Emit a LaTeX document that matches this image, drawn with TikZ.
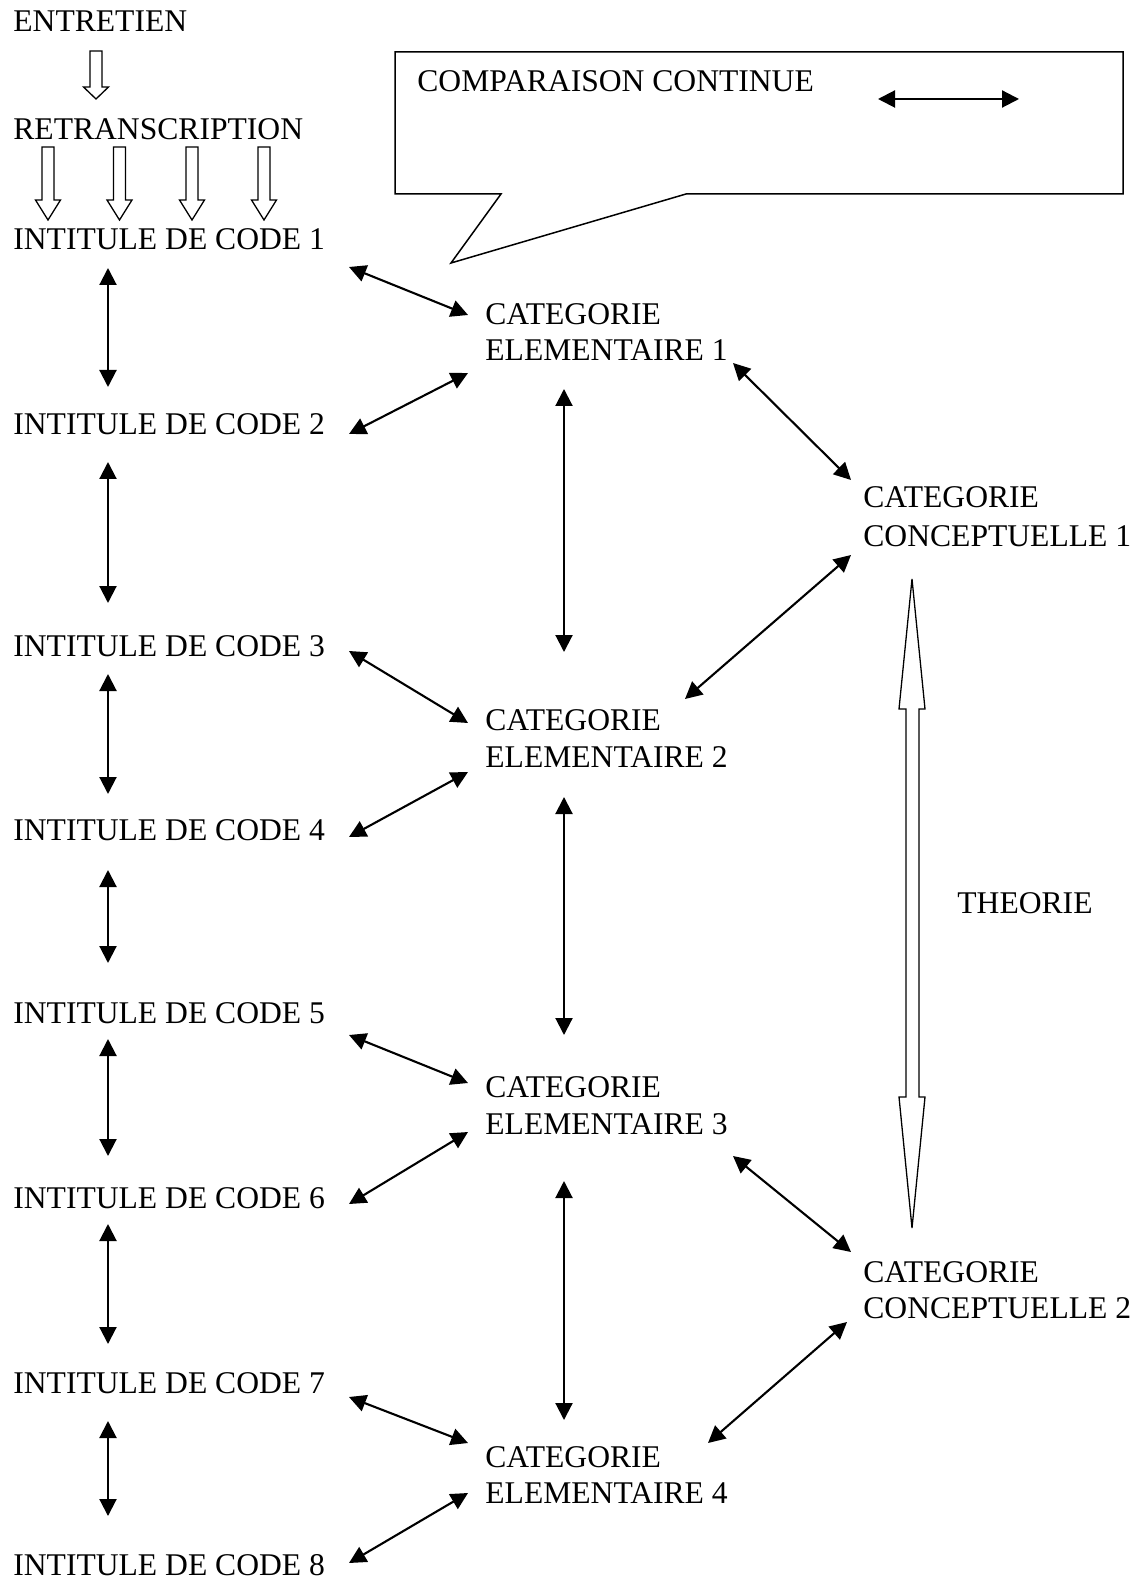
\documentclass[tikz,border=0pt]{standalone}
\usepackage{fontspec}
\setmainfont{Liberation Serif}
\usetikzlibrary{arrows.meta}
\newcommand\hdarrow[4]{% cx, top, headbase, tip
  \draw[hollow] (#1-6,#2) -- (#1+6,#2) -- (#1+6,#3) -- (#1+12.5,#3) -- (#1,#4) -- (#1-12.5,#3) -- (#1-6,#3) -- cycle;}
\begin{document}
\begin{tikzpicture}[x=0.5pt,y=-0.5pt,
  lbl/.style={anchor=base west,inner sep=0pt,font=\fontsize{15.8}{19}\selectfont},
  biarrow/.style={line width=1.05pt,{Triangle[length=8.5pt,width=8.5pt]}-{Triangle[length=8.5pt,width=8.5pt]}},
  hollow/.style={line width=0.65pt,draw=black,fill=white,line join=miter},
  bubble/.style={line width=0.75pt,draw=black,line join=miter}]
\useasboundingbox (0,0) rectangle (1138,1582);
% top texts
\node[lbl] (ent) at (13,32) {ENTRETIEN};
\node[lbl] (ret) at (13,140) {RETRANSCRIPTION};
\hdarrow{96}{51}{87}{99}
\hdarrow{48}{147}{200}{220}
\hdarrow{119.5}{147}{200}{220}
\hdarrow{192}{147}{200}{220}
\hdarrow{264}{147}{200}{220}
% codes
\node[lbl] (c1) at (13,250) {INTITULE DE CODE 1};
\node[lbl] (c2) at (13,435) {INTITULE DE CODE 2};
\node[lbl] (c3) at (13,656) {INTITULE DE CODE 3};
\node[lbl] (c4) at (13,840) {INTITULE DE CODE 4};
\node[lbl] (c5) at (13,1023) {INTITULE DE CODE 5};
\node[lbl] (c6) at (13,1208) {INTITULE DE CODE 6};
\node[lbl] (c7) at (13,1393) {INTITULE DE CODE 7};
\node[lbl] (c8) at (13,1575) {INTITULE DE CODE 8};
% elementary categories
\node[lbl] (e1) at (485,325) {CATEGORIE};
\node[lbl] (e1b) at (485,361) {ELEMENTAIRE 1};
\node[lbl] (e2) at (485,730) {CATEGORIE};
\node[lbl] (e2b) at (485,767) {ELEMENTAIRE 2};
\node[lbl] (e3) at (485,1097) {CATEGORIE};
\node[lbl] (e3b) at (485,1134) {ELEMENTAIRE 3};
\node[lbl] (e4) at (485,1467) {CATEGORIE};
\node[lbl] (e4b) at (485,1503) {ELEMENTAIRE 4};
% conceptual categories
\node[lbl] (k1) at (863,508) {CATEGORIE};
\node[lbl] (k1b) at (863,546) {CONCEPTUELLE 1};
\node[lbl] (k2) at (863,1282) {CATEGORIE};
\node[lbl] (k2b) at (863,1318) {CONCEPTUELLE 2};
\node[lbl] (th) at (957,913) {THEORIE};
% speech bubble
\draw[bubble] (395,52) -- (1123,52) -- (1123,194) -- (686,194) -- (451,263) -- (501,194) -- (395,194) -- cycle;
\node[lbl] (cc) at (417,92) {COMPARAISON CONTINUE};
\coordinate (bl) at (878,99); \coordinate (br) at (1019,99);
\draw[biarrow] (bl) -- (br);
% left column vertical arrows
\foreach \i/\a/\b in {1/268/387,2/462/603,3/674/794,4/870/963,5/1039/1156,6/1224/1344,7/1421/1516}{
  \coordinate (lv\i a) at (108,\a); \coordinate (lv\i b) at (108,\b);
  \draw[biarrow] (lv\i a) -- (lv\i b);}
% middle column vertical arrows
\foreach \i/\a/\b in {1/389/652,2/797/1035,3/1181/1420}{
  \coordinate (mv\i a) at (564,\a); \coordinate (mv\i b) at (564,\b);
  \draw[biarrow] (mv\i a) -- (mv\i b);}
% code <-> elementary
\foreach \i/\xa/\ya/\xb/\yb in {1/349/267/468/315, 2/349/434/468/373, 3/349/651/468/723, 4/349/837/468/772,
  5/349/1035/468/1083, 6/349/1204/468/1132, 7/349/1397/468/1443, 8/349/1563/468/1493}{
  \coordinate (d\i a) at (\xa,\ya); \coordinate (d\i b) at (\xb,\yb);
  \draw[biarrow] (d\i a) -- (d\i b);}
% elementary <-> conceptual
\foreach \i/\xa/\ya/\xb/\yb in {1/733/363/851/480, 2/851/555/685/699, 3/733/1156/851/1252, 4/847/1322/708/1443}{
  \coordinate (g\i a) at (\xa,\ya); \coordinate (g\i b) at (\xb,\yb);
  \draw[biarrow] (g\i a) -- (g\i b);}
% theory hollow double arrow
\draw[hollow] (912,579) -- (925,709) -- (919,709) -- (919,1097) -- (925,1097) -- (912,1228) -- (899,1097) -- (906,1097) -- (906,709) -- (899,709) -- cycle;
\end{tikzpicture}
\end{document}
